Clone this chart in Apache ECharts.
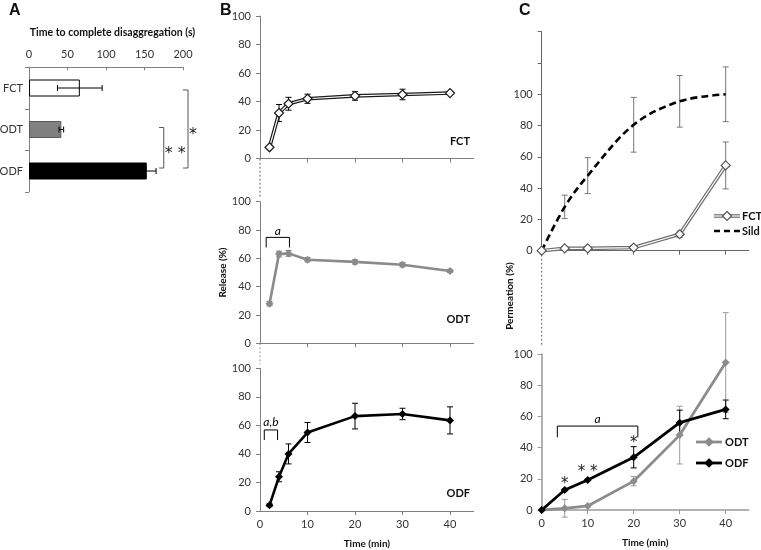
<!DOCTYPE html>
<html><head><meta charset="utf-8">
<script src="https://cdn.jsdelivr.net/npm/echarts@6/dist/echarts.min.js"></script>
<style>html,body{margin:0;padding:0;background:#fff}#c{width:761px;height:550px}</style>
</head><body><div id="c"></div>
<script>
// ---------- DATA ----------
// Panel A
const catsA = ['FCT', 'ODT', 'ODF'];
const disaggTime = [66, 42, 153];
const disaggErr = [29, 3, 12];
const ticksA = [0, 50, 100, 150, 200];
// significance brackets A: [fromCat, toCat, xInner, xOuter, label]
const bracketsA = [[1, 2, 169, 175, '**'], [0, 2, 200, 206.5, '*']];

// Panel B (release)
const timeB = [2, 4, 6, 10, 20, 30, 40];
const relFCT = [8, 32, 38.5, 42, 44, 45, 46];
const relFCTErr = [1, 6, 4.5, 3.2, 3, 3.7, 1];
const relODT = [28, 63, 63.5, 59, 57.5, 55.5, 51];
const relODTErr = [1.5, 2, 2, 1.5, 1.5, 1.5, 1];
const relODF = [4, 24, 40, 55, 66.5, 68, 63.5];
const relODFErr = [1, 3.5, 7, 7, 9, 4, 9.5];
const ticksB = [0, 10, 20, 30, 40];
// brackets: [t1, t2, yTop, yLeg, label]
const bracketsB2 = [[1.3, 6.2, 74.8, 67.7, 'a']];
const bracketsB3 = [[0.9, 3.7, 56.8, 49.7, 'a,b']];

// Panel C (permeation)
const timeC = [0, 5, 10, 20, 30, 40];
const permSild = [0, 28, 48, 80.5, 95.5, 100];
const permSildErr = [0, 7.5, 11.5, 17.5, 16.5, 17.5];
const permFCT = [0, 1.5, 1.5, 2, 10.5, 54.5];
const permFCTErr = [0, 0, 0, 0, 2, 15];
const permODT = [0, 1.1, 2.6, 18.5, 48, 94.5];
const permODTErr = [0, 5.7, 0.5, 3, 18.5, 32];
const permODF = [0, 12.8, 19.2, 33.8, 56, 64.5];
const permODFErr = [0, 0.5, 0.5, 6.8, 8, 6];
const bracketsC2 = [[3.4, 20.9, 53.8, 46.6, 'a']];
const starsC2 = [[5, 19.2, '*'], [10, 26.7, '* *'], [20, 45.3, '*']];

// ---------- LAYOUT ----------
const FONT = 'Lato, "Noto Sans", sans-serif';
const G = {
  A:  {left: 29,    top: 67.25, width: 154,    height: 124.5},
  B1: {left: 260,   top: 16,    width: 213.75, height: 142.7},
  B2: {left: 260,   top: 201.7, width: 213.75, height: 141.6},
  B3: {left: 260,   top: 368.3, width: 213.75, height: 142.7},
  C1: {left: 541.7, top: 31.7,  width: 207,    height: 219},
  C2: {left: 541.7, top: 354,   width: 207,    height: 156}
};
const AX = '#808080';
const TXT = '#333';

const chart = echarts.init(document.getElementById('c'), null, {renderer: 'canvas'});

function grid(g) { return Object.assign({containLabel: false, outerBoundsMode: 'none'}, g); }

function errV(color) {
  return function (params, api) {
    const x = api.value(0), y = api.value(1), e = api.value(2);
    if (!e) return {type: 'group', children: []};
    const t = api.coord([x, y + e]), b = api.coord([x, y - e]), h = 3;
    const st = {stroke: color, lineWidth: 1};
    return {type: 'group', children: [
      {type: 'line', shape: {x1: t[0], y1: t[1], x2: b[0], y2: b[1]}, style: st},
      {type: 'line', shape: {x1: t[0] - h, y1: t[1], x2: t[0] + h, y2: t[1]}, style: st},
      {type: 'line', shape: {x1: b[0] - h, y1: b[1], x2: b[0] + h, y2: b[1]}, style: st}
    ]};
  };
}
function errH(params, api) {
  const v = api.value(0), i = api.value(1), e = api.value(2);
  const l = api.coord([v - e, i]), r = api.coord([v + e, i]), h = 3;
  const st = {stroke: '#000', lineWidth: 1};
  return {type: 'group', children: [
    {type: 'line', shape: {x1: l[0], y1: l[1], x2: r[0], y2: r[1]}, style: st},
    {type: 'line', shape: {x1: l[0], y1: l[1] - h, x2: l[0], y2: l[1] + h}, style: st},
    {type: 'line', shape: {x1: r[0], y1: r[1] - h, x2: r[0], y2: r[1] + h}, style: st}
  ]};
}
function bracketH(arr, labelGap) {
  return function (params, api) {
    const d = arr[params.dataIndex];
    const a = api.coord([d[0], d[3]]), b = api.coord([d[0], d[2]]);
    const c = api.coord([d[1], d[2]]), e = api.coord([d[1], d[3]]);
    return {type: 'group', children: [
      {type: 'polyline', shape: {points: [a, b, c, e]}, style: {stroke: '#000', fill: null, lineWidth: 1}},
      {type: 'text', x: (b[0] + c[0]) / 2, y: b[1] - labelGap,
       style: {text: d[4], font: 'italic 12px ' + FONT, fill: '#000', align: 'center', verticalAlign: 'middle'}}
    ]};
  };
}
function bracketA(params, api) {
  const d = bracketsA[params.dataIndex];
  const t1 = api.coord([d[2], d[0]]), t2 = api.coord([d[3], d[0]]);
  const b1 = api.coord([d[2], d[1]]);
  const yt = t1[1] + (d[0] === 0 ? 2 : -2), yb = b1[1] - 3;
  const label = d[4].split('').join(' ');
  return {type: 'group', children: [
    {type: 'polyline', shape: {points: [[t1[0], yt], [t2[0], yt], [t2[0], yb], [b1[0], yb]]},
     style: {stroke: '#555', fill: null, lineWidth: 1}},
    {type: 'text', x: t2[0] + 1, y: (yt + yb) / 2 + 6,
     style: {text: label, font: '16px "DejaVu Sans", sans-serif', fill: '#222', align: 'left', verticalAlign: 'middle'}}
  ]};
}
function starsRender(params, api) {
  const d = starsC2[params.dataIndex];
  const p = api.coord([d[0], d[1]]);
  return {type: 'text', x: p[0], y: p[1] + 4,
    style: {text: d[2], font: '15px "DejaVu Sans", sans-serif', fill: '#222', align: 'center', verticalAlign: 'middle'}};
}

function yAxisVal(gi, max, labelVals, color) {
  return {type: 'value', gridIndex: gi, min: 0, max: max, interval: 20,
    axisLine: {show: true, onZero: false, lineStyle: {color: color || AX, width: 1}},
    axisTick: {show: true, length: 4, lineStyle: {color: color || AX}},
    axisLabel: {show: true, fontSize: 11, color: TXT, fontFamily: FONT, margin: 9,
      customValues: labelVals},
    splitLine: {show: false}};
}
function xAxisVal(gi, showLabels, color) {
  return {type: 'value', gridIndex: gi, min: 0, max: 45,
    axisLine: {show: true, onZero: false, lineStyle: {color: color || AX, width: 1}},
    axisTick: {show: true, length: 4, customValues: [10, 20, 30, 40], lineStyle: {color: color || AX}},
    axisLabel: {show: showLabels, fontSize: 11, color: TXT, fontFamily: FONT, margin: 8,
      customValues: ticksB},
    splitLine: {show: false}};
}
const pairs = (xs, ys) => xs.map((x, i) => [x, ys[i]]);
const triples = (xs, ys, es) => xs.map((x, i) => [x, ys[i], es[i]]);

const xAxes = [
  {type: 'value', gridIndex: 0, position: 'top', min: 0, max: 200, interval: 50,
   name: 'Time to complete disaggregation (s)', nameLocation: 'middle', nameGap: 29,
   nameTextStyle: {fontFamily: FONT, fontWeight: 'bold', fontSize: 10.5, color: '#111', padding: [0, 0, 0, 13]},
   axisLine: {show: true, lineStyle: {color: AX}},
   axisTick: {show: true, inside: true, length: 3, lineStyle: {color: AX}},
   axisLabel: {fontSize: 11, color: TXT, fontFamily: FONT, margin: 7},
   splitLine: {show: false}},
  xAxisVal(1, false), xAxisVal(2, false),
  Object.assign(xAxisVal(3, true), {name: 'Time (min)', nameLocation: 'middle', nameGap: 28,
    nameTextStyle: {fontFamily: FONT, fontWeight: 'bold', fontSize: 10, color: '#111'}}),
  xAxisVal(4, false, '#666'),
  Object.assign(xAxisVal(5, true, '#999'), {name: 'Time (min)', nameLocation: 'middle', nameGap: 28,
    nameTextStyle: {fontFamily: FONT, fontWeight: 'bold', fontSize: 10, color: '#111'}})
];
const yAxes = [
  {type: 'category', gridIndex: 0, data: catsA, inverse: true,
   axisLine: {show: true, lineStyle: {color: AX}},
   axisTick: {show: true, length: 4, lineStyle: {color: AX}},
   axisLabel: {fontSize: 11, color: TXT, fontFamily: FONT, margin: 6}},
  yAxisVal(1, 100),
  Object.assign(yAxisVal(2, 100), {name: 'Release (%)', nameLocation: 'middle', nameGap: 29,
    nameTextStyle: {fontFamily: FONT, fontWeight: 'bold', fontSize: 10, color: '#111'}}),
  yAxisVal(3, 100),
  yAxisVal(4, 140, [0, 20, 40, 60, 80, 100], '#666'),
  yAxisVal(5, 100, null, '#999')
];
yAxes[5].axisLine.lineStyle.width = 1.5;
xAxes[5].axisLine.lineStyle.width = 1.5;

const series = [
  // Panel A
  {type: 'bar', xAxisIndex: 0, yAxisIndex: 0, barWidth: 17, z: 2,
   data: [
     {value: disaggTime[0], itemStyle: {color: '#fff', borderColor: '#000', borderWidth: 1}},
     {value: disaggTime[1], itemStyle: {color: '#808080', borderColor: '#5a5a5a', borderWidth: 1}},
     {value: disaggTime[2], itemStyle: {color: '#000', borderColor: '#000', borderWidth: 1}}
   ]},
  {type: 'custom', xAxisIndex: 0, yAxisIndex: 0, z: 5, renderItem: errH,
   data: disaggTime.map((v, i) => [v, i, disaggErr[i]]), encode: {x: 0, y: 1}},
  {type: 'custom', xAxisIndex: 0, yAxisIndex: 0, z: 5, renderItem: bracketA,
   data: bracketsA.map(d => [d[3], d[1]]), encode: {x: 0, y: 1}},

  // Panel B1 FCT
  {type: 'custom', xAxisIndex: 1, yAxisIndex: 1, z: 1, renderItem: errV('#000'),
   data: triples(timeB, relFCT, relFCTErr), encode: {x: 0, y: 1}},
  {type: 'line', xAxisIndex: 1, yAxisIndex: 1, z: 2, symbol: 'none',
   lineStyle: {color: '#1a1a1a', width: 3.6}, data: pairs(timeB, relFCT)},
  {type: 'line', xAxisIndex: 1, yAxisIndex: 1, z: 3, symbol: 'diamond', symbolSize: 9,
   lineStyle: {color: '#fff', width: 1.2},
   itemStyle: {color: '#fff', borderColor: '#1a1a1a', borderWidth: 1.2}, data: pairs(timeB, relFCT)},
  // B2 ODT
  {type: 'custom', xAxisIndex: 2, yAxisIndex: 2, z: 1, renderItem: errV('#777'),
   data: triples(timeB, relODT, relODTErr), encode: {x: 0, y: 1}},
  {type: 'line', xAxisIndex: 2, yAxisIndex: 2, z: 2, symbol: 'diamond', symbolSize: 8,
   lineStyle: {color: '#8a8a8a', width: 2.6}, itemStyle: {color: '#8a8a8a'}, data: pairs(timeB, relODT)},
  {type: 'custom', xAxisIndex: 2, yAxisIndex: 2, z: 5, renderItem: bracketH(bracketsB2, 6),
   data: bracketsB2.map(d => [d[0], d[2]]), encode: {x: 0, y: 1}},
  // B3 ODF
  {type: 'custom', xAxisIndex: 3, yAxisIndex: 3, z: 1, renderItem: errV('#000'),
   data: triples(timeB, relODF, relODFErr), encode: {x: 0, y: 1}},
  {type: 'line', xAxisIndex: 3, yAxisIndex: 3, z: 2, symbol: 'diamond', symbolSize: 8,
   lineStyle: {color: '#000', width: 2.6}, itemStyle: {color: '#000'}, data: pairs(timeB, relODF)},
  {type: 'custom', xAxisIndex: 3, yAxisIndex: 3, z: 5, renderItem: bracketH(bracketsB3, 8),
   data: bracketsB3.map(d => [d[0], d[2]]), encode: {x: 0, y: 1}},

  // C1 Sild + FCT
  {type: 'custom', xAxisIndex: 4, yAxisIndex: 4, z: 1, renderItem: errV('#777'),
   data: triples(timeC, permSild, permSildErr), encode: {x: 0, y: 1}},
  {type: 'line', xAxisIndex: 4, yAxisIndex: 4, z: 2, symbol: 'none', smooth: 0.35,
   lineStyle: {color: '#000', width: 2.6, type: [7, 4]}, data: pairs(timeC, permSild)},
  {type: 'custom', xAxisIndex: 4, yAxisIndex: 4, z: 1, renderItem: errV('#777'),
   data: triples(timeC, permFCT, permFCTErr), encode: {x: 0, y: 1}},
  {type: 'line', xAxisIndex: 4, yAxisIndex: 4, z: 2, symbol: 'none',
   lineStyle: {color: '#6e6e6e', width: 3.6}, data: pairs(timeC, permFCT)},
  {type: 'line', xAxisIndex: 4, yAxisIndex: 4, z: 3, symbol: 'diamond', symbolSize: 9,
   lineStyle: {color: '#fff', width: 1.2},
   itemStyle: {color: '#fff', borderColor: '#555', borderWidth: 1.2}, data: pairs(timeC, permFCT)},

  // C2 ODT + ODF
  {type: 'custom', xAxisIndex: 5, yAxisIndex: 5, z: 1, renderItem: errV('#9a9a9a'),
   data: triples(timeC, permODT, permODTErr), encode: {x: 0, y: 1}},
  {type: 'line', xAxisIndex: 5, yAxisIndex: 5, z: 2, symbol: 'diamond', symbolSize: 8,
   lineStyle: {color: '#8c8c8c', width: 2.8}, itemStyle: {color: '#8c8c8c'}, data: pairs(timeC, permODT)},
  {type: 'custom', xAxisIndex: 5, yAxisIndex: 5, z: 1, renderItem: errV('#000'),
   data: triples(timeC, permODF, permODFErr), encode: {x: 0, y: 1}},
  {type: 'line', xAxisIndex: 5, yAxisIndex: 5, z: 3, symbol: 'diamond', symbolSize: 8,
   lineStyle: {color: '#000', width: 2.8}, itemStyle: {color: '#000'}, data: pairs(timeC, permODF)},
  {type: 'custom', xAxisIndex: 5, yAxisIndex: 5, z: 5, renderItem: bracketH(bracketsC2, 7),
   data: bracketsC2.map(d => [d[0], d[2]]), encode: {x: 0, y: 1}},
  {type: 'custom', xAxisIndex: 5, yAxisIndex: 5, z: 5, renderItem: starsRender,
   data: starsC2.map(d => [d[0], d[1]]), encode: {x: 0, y: 1}}
];

// connectors, panel letters, sub-titles, legends
function dashed(x, y1, y2, color) {
  return {type: 'line', shape: {x1: x, y1: y1, x2: x, y2: y2},
    style: {stroke: color, lineWidth: 1, lineDash: [2, 2]}};
}
function txt(x, y, t, font, align, rot) {
  return {type: 'text', x: x, y: y, rotation: rot || 0,
    style: {text: t, font: font, fill: '#111', align: align || 'left', verticalAlign: 'middle'}};
}
function diamond(cx, cy, r, fill, stroke) {
  return {type: 'polygon', shape: {points: [[cx, cy - r], [cx + r, cy], [cx, cy + r], [cx - r, cy]]},
    style: {fill: fill, stroke: stroke, lineWidth: 1.2}, z: 10};
}
function seg(x1, x2, y, color, w, dash) {
  return {type: 'line', shape: {x1: x1, y1: y, x2: x2, y2: y},
    style: {stroke: color, lineWidth: w, lineDash: dash || null}, z: 9};
}
const bold11 = 'bold 11px ' + FONT;
const graphic = [
  dashed(G.B1.left, G.B1.top + G.B1.height, G.B2.top - 4, '#666'),
  dashed(G.B2.left, G.B2.top + G.B2.height, G.B3.top - 4, '#999'),
  dashed(G.C1.left, G.C1.top + G.C1.height, G.C2.top - 8, '#666'),
  txt(9, 11, 'A', 'bold 16px "Liberation Sans", Arial, sans-serif'),
  txt(220, 11, 'B', 'bold 16px "Liberation Sans", Arial, sans-serif'),
  txt(519, 11, 'C', 'bold 16px "Liberation Sans", Arial, sans-serif'),
  txt(470, 141, 'FCT', bold11, 'right'),
  txt(470, 319, 'ODT', bold11, 'right'),
  txt(470, 493, 'ODF', bold11, 'right'),
  txt(510, 296, 'Permeation (%)', 'bold 10px ' + FONT, 'center', Math.PI / 2),
  // legend C1
  seg(714, 740, 216, '#6e6e6e', 3.6), seg(714, 740, 216, '#fff', 1.2),
  diamond(727, 216, 4.5, '#fff', '#555'),
  txt(742, 216, 'FCT', bold11),
  seg(714, 740, 231, '#000', 2.6, [6, 4]),
  txt(742, 231, 'Sild', bold11),
  // legend C2
  seg(696, 722, 442, '#8c8c8c', 2.8), diamond(709, 442, 4, '#8c8c8c', '#8c8c8c'),
  txt(725, 442, 'ODT', bold11),
  seg(696, 722, 463, '#000', 2.8), diamond(709, 463, 4, '#000', '#000'),
  txt(725, 463, 'ODF', bold11)
];

chart.setOption({
  animation: false,
  backgroundColor: '#fff',
  textStyle: {fontFamily: FONT},
  grid: [grid(G.A), grid(G.B1), grid(G.B2), grid(G.B3), grid(G.C1), grid(G.C2)],
  xAxis: xAxes,
  yAxis: yAxes,
  series: series,
  graphic: graphic
});
</script>
</body></html>
